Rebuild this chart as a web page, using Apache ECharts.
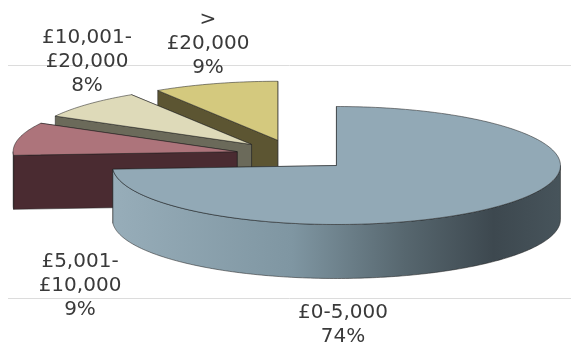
<!DOCTYPE html>
<html>
<head>
<meta charset="utf-8">
<script src="https://cdn.jsdelivr.net/npm/echarts@6/dist/echarts.min.js"></script>
<style>html,body{margin:0;padding:0;background:#fff}#c{width:577px;height:347px}</style>
</head>
<body>
<div id="c"></div>
<script>
// ---- data ----
var categories = ['£0-5,000', '£5,001-\n£10,000', '£10,001-\n£20,000', '>\n£20,000'];
var values = [74, 9, 8, 9];

// ---- layout / style (not data) ----
var topColors = ['#92a9b6', '#ad747b', '#dedab9', '#d4c97e'];
var sideColors = ['#5e707a', '#4a2b31', '#6b6a5a', '#5c5532'];
var labelPos = [[343, 325], [80, 286], [87, 62], [208, 44]];
var geo = {cx: 294, cy: 155, rx: 224, ry: 59, depth: 54, explode: 0.26};

var total = values.reduce(function (a, b) { return a + b; }, 0);

function tipOf(i) {
  var s = 0; for (var k = 0; k < i; k++) s += values[k];
  var a0 = s / total * Math.PI * 2, a1 = (s + values[i]) / total * Math.PI * 2;
  var m = (a0 + a1) / 2;
  return {a0: a0, a1: a1,
    x: geo.cx + geo.explode * geo.rx * Math.sin(m),
    y: geo.cy - geo.explode * geo.ry * Math.cos(m)};
}
var tipYs = values.map(function (v, i) { return tipOf(i).y; });
var order = tipYs.map(function (y, i) { return i; }).sort(function (a, b) { return tipYs[a] - tipYs[b]; });
var rank = []; order.forEach(function (idx, r) { rank[idx] = r; });

var mainSideGrad = new echarts.graphic.LinearGradient(0, 0, 1, 0, [
  {offset: 0, color: '#97adb9'},
  {offset: 0.4, color: '#7f96a2'},
  {offset: 0.65, color: '#57676f'},
  {offset: 0.85, color: '#3d484f'},
  {offset: 1, color: '#47545b'}
]);

function renderItem(params, api) {
  var i = params.dataIndex;
  var t = tipOf(i);
  var a0 = t.a0, a1 = t.a1, h = geo.depth;
  function pt(a, dy) { return [t.x + geo.rx * Math.sin(a), t.y - geo.ry * Math.cos(a) + (dy || 0)]; }
  function arc(from, to, dy) {
    var pts = [], n = Math.max(2, Math.ceil(Math.abs(to - from) / (Math.PI / 180)));
    for (var k = 0; k <= n; k++) pts.push(pt(from + (to - from) * k / n, dy));
    return pts;
  }
  var z0 = rank[i] * 10;
  var stroke = 'rgba(30,30,30,0.75)';
  var children = [];
  var faces = [
    {vis: -Math.sin(a0), pts: [[t.x, t.y], pt(a0), pt(a0, h), [t.x, t.y + h]]},
    {vis: Math.sin(a1), pts: [[t.x, t.y], pt(a1), pt(a1, h), [t.x, t.y + h]]}
  ].sort(function (p, q) { return p.vis - q.vis; });
  faces.forEach(function (f, k) {
    children.push({type: 'polygon', z2: z0 + k, shape: {points: f.pts},
      style: {fill: sideColors[i], stroke: stroke, lineWidth: 0.7}});
  });
  var lo = Math.max(a0, Math.PI / 2), hi = Math.min(a1, Math.PI * 1.5);
  if (hi > lo) {
    var pts = arc(lo, hi, 0).concat(arc(hi, lo, h));
    children.push({type: 'polygon', z2: z0 + 3, shape: {points: pts},
      style: {fill: i === 0 ? mainSideGrad : sideColors[i], stroke: stroke, lineWidth: 0.7}});
  }
  var top = [[t.x, t.y]].concat(arc(a0, a1, 0));
  children.push({type: 'polygon', z2: z0 + 4, shape: {points: top},
    style: {fill: topColors[i], stroke: stroke, lineWidth: 0.7}});
  var pct = Math.round(values[i] / total * 100) + '%';
  children.push({type: 'text', z2: 100, x: labelPos[i][0], y: labelPos[i][1],
    style: {text: categories[i] + '\n' + pct, align: 'center', verticalAlign: 'middle',
      fill: '#3a3a3a', font: '20px "DejaVu Sans"', lineHeight: 24}});
  return {type: 'group', children: children};
}

var chart = echarts.init(document.getElementById('c'), null, {renderer: 'canvas'});
chart.setOption({
  animation: false,
  backgroundColor: '#ffffff',
  graphic: [
    {type: 'line', z: 0, shape: {x1: 8, y1: 65.5, x2: 571, y2: 65.5}, style: {stroke: '#dcdcdc', lineWidth: 1}},
    {type: 'line', z: 0, shape: {x1: 8, y1: 298.5, x2: 571, y2: 298.5}, style: {stroke: '#dcdcdc', lineWidth: 1}}
  ],
  series: [{
    type: 'custom',
    coordinateSystem: 'none',
    renderItem: renderItem,
    data: values.map(function (v, i) { return {name: categories[i], value: v}; })
  }]
});
</script>
</body>
</html>
